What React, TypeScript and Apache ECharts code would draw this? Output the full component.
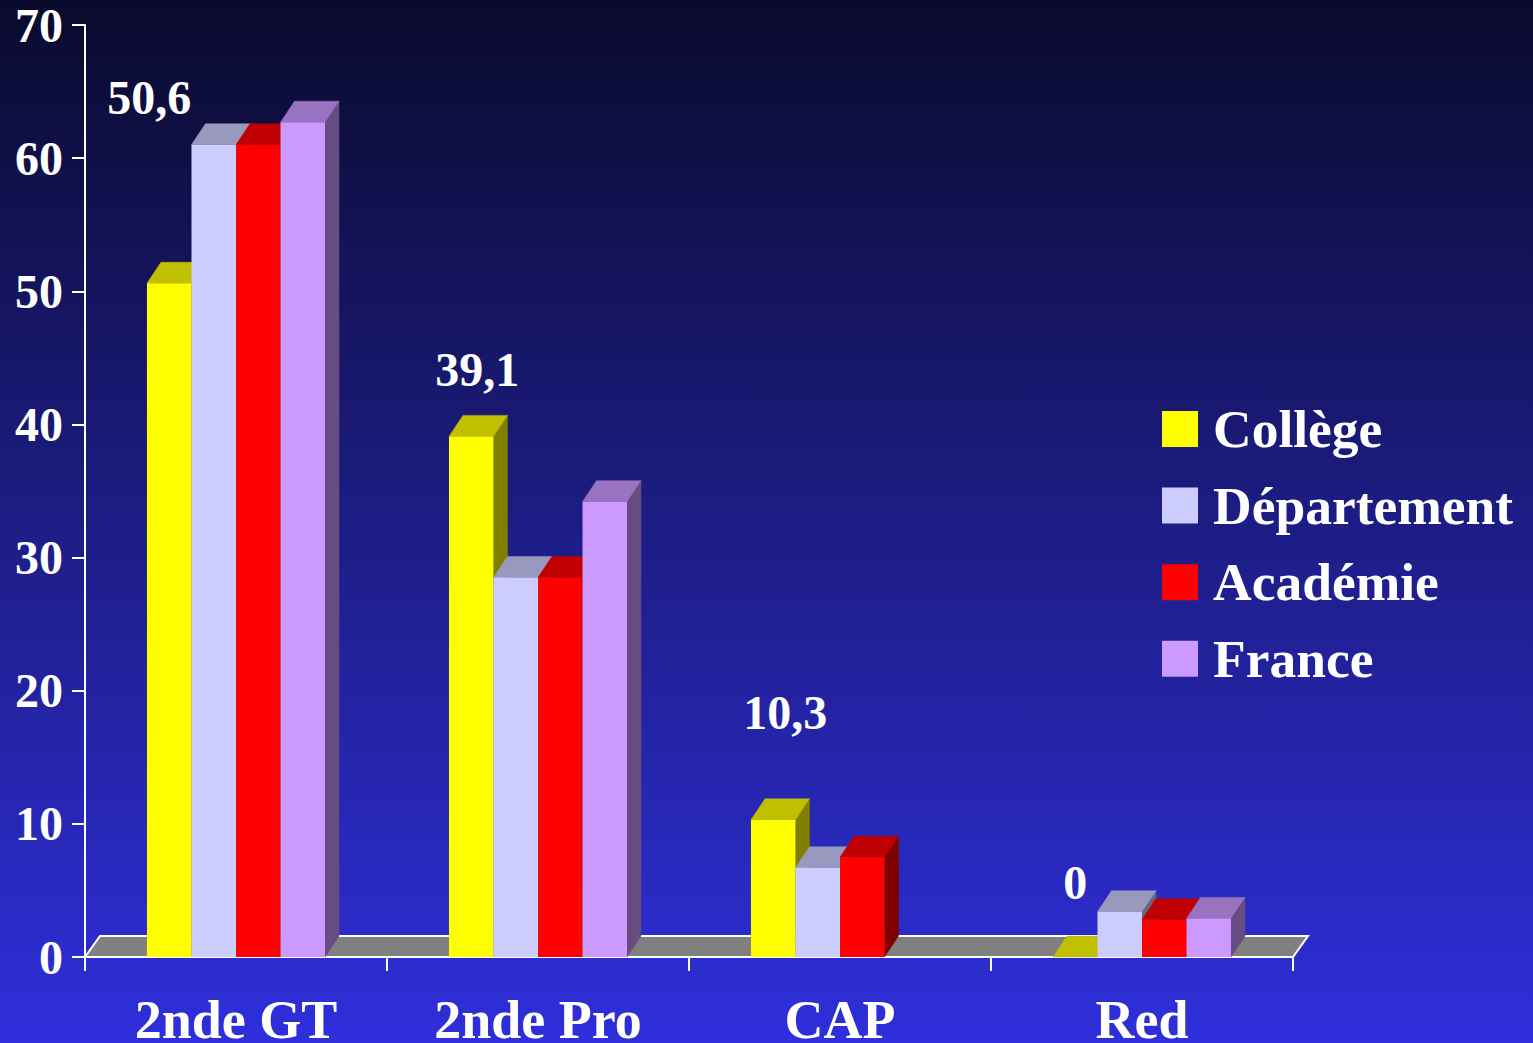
import React, { useEffect, useRef } from "react";
import * as echarts from "echarts";

// ---- data ----
const categories = ["2nde GT", "2nde Pro", "CAP", "Red"];
const seriesNames = ["Collège", "Département", "Académie", "France"];
const college = [50.6, 39.1, 10.3, 0];
const departement = [61.0, 28.5, 6.7, 3.4];
const academie = [61.0, 28.5, 7.5, 2.8];
const france: (number | null)[] = [62.7, 34.2, null, 2.9];
const yMin = 0;
const yMax = 70;
const yInterval = 10;

// ---- styles ----
const faceColors = [
  { front: "#ffff00", top: "#c0c000", side: "#808000" },
  { front: "#ccccff", top: "#9999bf", side: "#666680" },
  { front: "#ff0000", top: "#c00000", side: "#800000" },
  { front: "#cc99ff", top: "#9973bf", side: "#664c80" },
];
const labelOffsets = [
  [-20, -186],
  [6, -67],
  [12, -107],
  [0, -75],
];
const DX = 14;
const DY = 21;
const FLOOR_DX = 15;
const FLOOR_DY = 21;
const BAR_RATIO = 0.1474;
const FONT = '"Liberation Serif", "Times New Roman", serif';

const allValues = [college, departement, academie, france];

function makeBarSeries(sIdx: number) {
  const colors = faceColors[sIdx];
  const values = allValues[sIdx];
  return {
    type: "custom",
    name: seriesNames[sIdx],
    coordinateSystem: "cartesian2d",
    z: 3 + sIdx,
    silent: true,
    itemStyle: { color: colors.front },
    encode: { x: 0, y: 1 },
    data: values.map((v, i) => [i, v]),
    renderItem: (params: any, api: any) => {
      const catIdx = api.value(0);
      const val = api.value(1);
      if (val === null || val === undefined || isNaN(val)) return null;
      const p = api.coord([catIdx, val]);
      const p0 = api.coord([catIdx, 0]);
      const band = api.size([1, 0])[0];
      const bw = band * BAR_RATIO;
      const cx = p[0] + (sIdx - 1.5) * bw;
      const x = cx - bw / 2;
      const y = p[1];
      const y0 = p0[1];
      const children: any[] = [
        {
          type: "polygon",
          shape: {
            points: [
              [x + bw, y],
              [x + bw + DX, y - DY],
              [x + bw + DX, y0 - DY],
              [x + bw, y0],
            ],
          },
          style: { fill: colors.side, stroke: colors.side, lineWidth: 0.5 },
        },
        {
          type: "polygon",
          shape: {
            points: [
              [x, y],
              [x + bw, y],
              [x + bw + DX, y - DY],
              [x + DX, y - DY],
            ],
          },
          style: { fill: colors.top, stroke: colors.top, lineWidth: 0.5 },
        },
        {
          type: "rect",
          shape: { x, y, width: bw, height: y0 - y },
          style: { fill: colors.front },
        },
      ];
      if (sIdx === 0) {
        const off = labelOffsets[catIdx];
        children.push({
          type: "text",
          x: cx + off[0],
          y: y + off[1],
          style: {
            text: String(val).replace(".", ","),
            fill: "#ffffff",
            fontSize: 48,
            fontWeight: "bold",
            fontFamily: FONT,
            align: "center",
            verticalAlign: "middle",
          },
        });
      }
      return { type: "group", children };
    },
  };
}

const floorSeries = {
  type: "custom",
  name: "floor",
  coordinateSystem: "cartesian2d",
  z: 2,
  silent: true,
  encode: { x: 0, y: 1 },
  data: [[0, 0]],
  renderItem: (params: any, api: any) => {
    const cs = params.coordSys;
    const y0 = api.coord([0, 0])[1];
    const x0 = cs.x;
    const x1 = cs.x + cs.width;
    return {
      type: "polygon",
      shape: {
        points: [
          [x0, y0],
          [x1, y0],
          [x1 + FLOOR_DX, y0 - FLOOR_DY],
          [x0 + FLOOR_DX, y0 - FLOOR_DY],
        ],
      },
      style: { fill: "#808080", stroke: "#ffffff", lineWidth: 2 },
    };
  },
};

export default function App() {
  const ref = useRef<HTMLDivElement>(null);
  useEffect(() => {
    if (!ref.current) return;
    const chart = echarts.init(ref.current, undefined, { renderer: "svg" });
    chart.setOption({
      animation: false,
      backgroundColor: new echarts.graphic.LinearGradient(0, 0, 0, 1, [
        { offset: 0, color: "#0a0a2d" },
        { offset: 1, color: "#2f2fdc" },
      ]),
      grid: {
        left: 85,
        right: 240,
        top: 25,
        bottom: 86,
        containLabel: false,
        outerBoundsMode: "none",
      },
      legend: {
        orient: "vertical",
        left: 1162,
        top: 402,
        padding: 0,
        itemWidth: 36,
        itemHeight: 36,
        itemGap: 22.6,
        selectedMode: false,
        data: seriesNames.map((n, i) => ({
          name: n,
          icon: "rect",
          itemStyle: { color: faceColors[i].front },
        })),
        textStyle: {
          color: "#ffffff",
          fontSize: 53.5,
          lineHeight: 52,
          fontWeight: "bold",
          fontFamily: FONT,
          padding: [0, 0, 0, 10],
        },
      },
      xAxis: {
        type: "category",
        data: categories,
        axisLine: { show: true, lineStyle: { color: "#ffffff", width: 2 } },
        axisTick: { show: true, length: 14, lineStyle: { color: "#ffffff", width: 2 } },
        axisLabel: {
          color: "#ffffff",
          fontSize: 54,
          lineHeight: 54,
          fontWeight: "bold",
          fontFamily: FONT,
          margin: 36,
        },
        splitLine: { show: false },
      },
      yAxis: {
        type: "value",
        min: yMin,
        max: yMax,
        interval: yInterval,
        axisLine: { show: true, lineStyle: { color: "#ffffff", width: 2 } },
        axisTick: { show: true, length: 13, lineStyle: { color: "#ffffff", width: 2 } },
        axisLabel: {
          color: "#ffffff",
          fontSize: 48,
          fontWeight: "bold",
          fontFamily: FONT,
          margin: 22,
        },
        splitLine: { show: false },
      },
      series: [floorSeries, ...seriesNames.map((_, i) => makeBarSeries(i))],
    });
    return () => chart.dispose();
  }, []);
  return (
    <div
      ref={ref}
      style={{ position: "absolute", left: 0, top: 0, width: 1533, height: 1043 }}
    />
  );
}
